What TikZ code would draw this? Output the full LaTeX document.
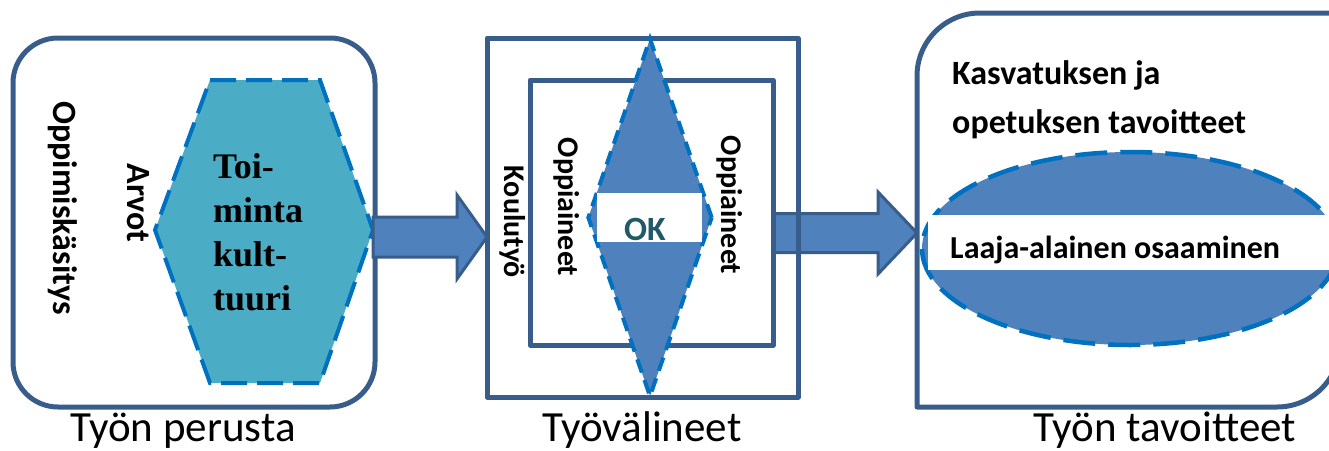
\documentclass[tikz,border=0pt]{standalone}
\usepackage{fontspec}
\setmainfont{Carlito}
\newfontfamily\timesfont{Liberation Serif}
\usetikzlibrary{shapes.geometric,%
                backgrounds}

\definecolor{boxline}{HTML}{385D8A}
\definecolor{accfill}{HTML}{4F81BD}
\definecolor{hexfill}{HTML}{4BACC6}
\definecolor{dashblue}{HTML}{0070C0}
\definecolor{okteal}{HTML}{215968}

\begin{document}
\begin{tikzpicture}[x=1pt,y=-1pt,
		frame/.style={draw=boxline,line width=5pt,line join=round},
		blockarrow/.style={draw=boxline,line width=3pt,fill=accfill,line join=miter},
		sidetext/.style={rotate=-90,font=\bfseries\fontsize{34}{40}\selectfont},
		subjtext/.style={rotate=-90,font=\bfseries\fontsize{30}{36}\selectfont},
		caption/.style={anchor=base,font=\fontsize{43}{50}\selectfont}]
		\useasboundingbox (0,0) rectangle (1329,450);
		\clip (0,0) rectangle (1329,450);
		% Tyon perusta
		\node[frame,rounded corners=45pt,minimum width=362pt,minimum height=369pt] (base) at (194,222.5) {};
		\draw[draw=dashblue,line width=4pt,dash pattern=on 26pt off 10pt,fill=hexfill]
			(210,80) -- (320,80) -- (373,230) -- (320,383) -- (210,383) -- (155,230) -- cycle;
		\coordinate (hexE) at (373,237);
		\draw[blockarrow] (hexE) ++(0,-20) -- ++(84,0) -- ++(0,-22) -- ++(30,42) -- ++(-30,42) -- ++(0,-22) -- ++(-84,0) -- cycle;
		\node[sidetext] (learning) at (63,208) {Oppimiskäsitys};
		\node[sidetext] (values) at (138,203) {Arvot};
		\node[anchor=north west,align=left,inner sep=0pt,font=\timesfont\bfseries\fontsize{36}{44}\selectfont] (culture) at (213,153) {Toi-\\minta\\kult-\\tuuri};
		% Tyovalineet
		\node[frame,minimum width=311pt,minimum height=359pt] (tools) at (642.5,217.5) {};
		\node[frame,minimum width=243pt,minimum height=265pt] (subjects) at (651.5,212.5) {};
		\begin{scope}[on background layer]
			\coordinate (subjE) at (773,233);
			\draw[blockarrow] (subjE) ++(0,-19.5) -- ++(105,0) -- ++(0,-21.5) -- ++(39,41) -- ++(-39,41) -- ++(0,-21.5) -- ++(-105,0) -- cycle;
		\end{scope}
		\node[diamond,draw=dashblue,fill=accfill,line width=4pt,dash pattern=on 14pt off 8pt,minimum width=125pt,minimum height=359pt,inner sep=0pt] (core) at (650,217.5) {};
		\node[fill=white,minimum width=105pt,minimum height=49pt,inner sep=0pt] (okband) at (649.5,217.5) {};
		\node[text=okteal,font=\bfseries\fontsize{34}{40}\selectfont] (ok) at (645,229) {OK};
		\node[subjtext] (schoolwork) at (513,222) {Koulutyö};
		\node[subjtext] (subjL) at (567,207) {Oppiaineet};
		\node[subjtext] (subjR) at (730,205) {Oppiaineet};
		% Tyon tavoitteet
		\draw[frame] (1345,13) -- (980,13) arc[start angle=270,end angle=180,radius=63] -- (917,407)
			-- (1277,407) arc[start angle=90,end angle=0,radius=63] -- (1340,300);
		\node[anchor=north west,align=left,inner sep=0pt,font=\bfseries\fontsize{34}{49}\selectfont] (aims) at (952,60) {Kasvatuksen ja\\opetuksen tavoitteet};
		\node[ellipse,draw=dashblue,fill=accfill,line width=4.5pt,dash pattern=on 32pt off 13pt,minimum width=416pt,minimum height=193pt,inner sep=0pt] (skills) at (1130,248.5) {};
		\node[fill=white,minimum width=412pt,minimum height=55pt,inner sep=0pt] (skillband) at (1134,242.5) {};
		\node[anchor=west,inner sep=0pt,font=\bfseries\fontsize{32}{38}\selectfont] (broad) at (950,250) {Laaja-alainen osaaminen};
		% otsikot
		\node[caption] (capbase) at (183,441) {Työn perusta};
		\node[caption] (captools) at (642,441) {Työvälineet};
		\node[caption] (capaims) at (1165,441) {Työn tavoitteet};
	\end{tikzpicture}
\end{document}
